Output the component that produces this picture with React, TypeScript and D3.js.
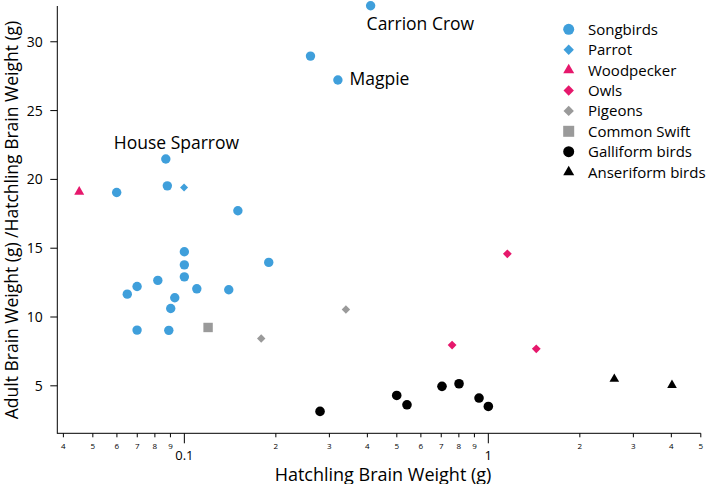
import React from "react";
import * as d3 from "d3";

type Pt = [number, number];

const songbirds: Pt[] = [
  [0.0599, 19.05], [0.0869, 21.48], [0.0879, 19.53], [0.150, 17.72], [0.1895, 13.97],
  [0.100, 14.74], [0.100, 13.79], [0.100, 12.92], [0.0818, 12.66], [0.0699, 12.22],
  [0.0649, 11.66], [0.1099, 12.05], [0.140, 11.98], [0.0930, 11.40], [0.0902, 10.62],
  [0.0699, 9.05], [0.0889, 9.03], [0.260, 28.96], [0.320, 27.22], [0.410, 32.62],
];
const parrot: Pt[] = [[0.0998, 19.42]];
const woodpecker: Pt[] = [[0.0451, 19.1]];
const owls: Pt[] = [[1.155, 14.59], [0.760, 7.96], [1.438, 7.69]];
const pigeons: Pt[] = [[0.179, 8.44], [0.340, 10.55]];
const swift: Pt[] = [[0.1197, 9.24]];
const galliform: Pt[] = [
  [0.2795, 3.14], [0.4996, 4.30], [0.540, 3.62], [0.704, 4.96], [0.801, 5.15], [0.932, 4.11], [1.0, 3.50],
];
const anseriform: Pt[] = [[2.597, 5.49], [4.02, 5.05]];

const annotations: { name: string; pt: Pt; dx: number; dy: number }[] = [
  { name: "Carrion Crow", pt: [0.410, 32.62], dx: -4, dy: 24.3 },
  { name: "Magpie", pt: [0.320, 27.22], dx: 11.6, dy: 5 },
  { name: "House Sparrow", pt: [0.0869, 21.48], dx: -52, dy: -10 },
];

const yTicks = [5, 10, 15, 20, 25, 30];
const xMinorTicks = [0.04, 0.05, 0.06, 0.07, 0.08, 0.09, 0.2, 0.3, 0.4, 0.5, 0.6, 0.7, 0.8, 0.9, 2, 3, 4, 5];
const xMajorTicks = [0.1, 1];

const BLUE = "#3f9fdb";
const PINK = "#e6186c";
const GRAY = "#9a9a9a";
const BLACK = "#000000";
const FONT = "'Open Sans', 'Noto Sans', sans-serif";

type Shape = "circle" | "diamond" | "triangle" | "square";

const legend: { label: string; shape: Shape; color: string }[] = [
  { label: "Songbirds", shape: "circle", color: BLUE },
  { label: "Parrot", shape: "diamond", color: BLUE },
  { label: "Woodpecker", shape: "triangle", color: PINK },
  { label: "Owls", shape: "diamond", color: PINK },
  { label: "Pigeons", shape: "diamond", color: GRAY },
  { label: "Common Swift", shape: "square", color: GRAY },
  { label: "Galliform birds", shape: "circle", color: BLACK },
  { label: "Anseriform birds", shape: "triangle", color: BLACK },
];

function Marker({ shape, color, cx, cy, s }: { shape: Shape; color: string; cx: number; cy: number; s: number }) {
  if (shape === "circle") return <circle cx={cx} cy={cy} r={s} fill={color} />;
  if (shape === "square") return <rect x={cx - s} y={cy - s} width={2 * s} height={2 * s} fill={color} />;
  if (shape === "diamond")
    return <path d={`M${cx},${cy - s}L${cx + s},${cy}L${cx},${cy + s}L${cx - s},${cy}Z`} fill={color} />;
  const h = s * 1.73;
  return (
    <path d={`M${cx},${cy - (2 * h) / 3}L${cx + s},${cy + h / 3}L${cx - s},${cy + h / 3}Z`} fill={color} />
  );
}

export default function App() {
  const W = 709;
  const H = 484;
  const x = d3.scaleLog().domain([0.0382, 5]).range([57.3, 700.8]);
  const y = d3.scaleLinear().domain([1.55, 32.6]).range([433.3, 6]);
  const x0 = x.range()[0];
  const x1 = x.range()[1];
  const yb = y.range()[0];
  const yt = y.range()[1];

  const groups: { data: Pt[]; shape: Shape; color: string; s: number }[] = [
    { data: songbirds, shape: "circle", color: BLUE, s: 4.7 },
    { data: parrot, shape: "diamond", color: BLUE, s: 4 },
    { data: woodpecker, shape: "triangle", color: PINK, s: 5 },
    { data: owls, shape: "diamond", color: PINK, s: 4.4 },
    { data: pigeons, shape: "diamond", color: GRAY, s: 4.2 },
    { data: swift, shape: "square", color: GRAY, s: 4.7 },
    { data: galliform, shape: "circle", color: BLACK, s: 4.8 },
    { data: anseriform, shape: "triangle", color: BLACK, s: 4.8 },
  ];

  return (
    <svg
      width={W}
      height={H}
      style={{ position: "absolute", left: 0, top: 0, display: "block", background: "#fff" }}
      fontFamily={FONT}
    >
      {/* axes */}
      <line x1={x0} x2={x0} y1={yt} y2={yb + 0.5} stroke="#000" strokeWidth={1} />
      <line x1={x0} x2={x1} y1={yb} y2={yb} stroke="#000" strokeWidth={1} />
      {yTicks.map((t) => (
        <g key={"y" + t}>
          <line x1={x0 - 7} x2={x0} y1={y(t)} y2={y(t)} stroke="#000" />
          <text x={x0 - 14.5} y={y(t)} dy="0.36em" textAnchor="end" fontSize={14} fill="#000">
            {t}
          </text>
        </g>
      ))}
      {xMinorTicks.map((t) => (
        <g key={"xm" + t}>
          <line x1={x(t)} x2={x(t)} y1={yb} y2={yb + 4} stroke="#000" />
          <text x={x(t)} y={448.5} textAnchor="middle" fontSize={8} fill="#000">
            {String(t).replace(/^0\.0?/, "")}
          </text>
        </g>
      ))}
      {xMajorTicks.map((t) => (
        <g key={"xM" + t}>
          <line x1={x(t)} x2={x(t)} y1={yb} y2={yb + 10} stroke="#000" />
          <text x={x(t)} y={460} textAnchor="middle" fontSize={13} fill="#000">
            {t}
          </text>
        </g>
      ))}
      <text x={383} y={480.5} textAnchor="middle" fontSize={18} fill="#000">
        Hatchling Brain Weight (g)
      </text>
      <text
        transform={`translate(17.5,220) rotate(-90)`}
        textAnchor="middle"
        fontSize={17.5}
        fill="#000"
      >
        Adult Brain Weight (g) /Hatchling Brain Weight (g)
      </text>

      {/* points */}
      {groups.map((g, gi) =>
        g.data.map((d, i) => (
          <Marker key={gi + "-" + i} shape={g.shape} color={g.color} cx={x(d[0])} cy={y(d[1])} s={g.s} />
        ))
      )}

      {/* annotations */}
      {annotations.map((a) => (
        <text key={a.name} x={x(a.pt[0]) + a.dx} y={y(a.pt[1]) + a.dy} fontSize={17.5} fill="#000">
          {a.name}
        </text>
      ))}

      {/* legend */}
      {legend.map((l, i) => {
        const ly = 29.3 + i * 20.4;
        const s = l.shape === "diamond" ? 5.2 : 5.5;
        return (
          <g key={l.label}>
            <Marker shape={l.shape} color={l.color} cx={568.7} cy={ly} s={s} />
            <text x={588} y={ly} dy="0.36em" fontSize={15} fill="#000">
              {l.label}
            </text>
          </g>
        );
      })}
    </svg>
  );
}
